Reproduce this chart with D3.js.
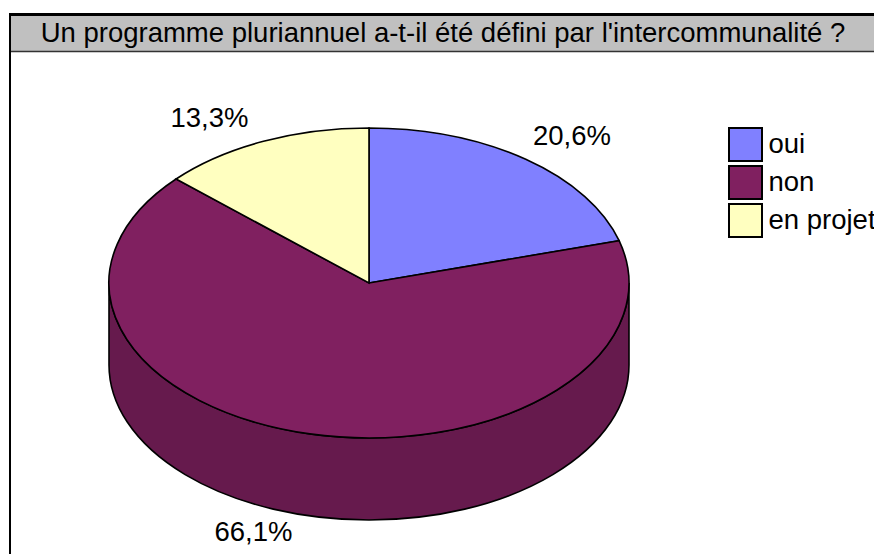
<!DOCTYPE html>
<html><head><meta charset="utf-8">
<script src="https://cdn.jsdelivr.net/npm/d3@7"></script>
<style>html,body{margin:0;padding:0;background:#fff}svg{display:block}text{font-family:"Liberation Sans",Arial,sans-serif;fill:#000;font-size:27.5px}</style>
</head><body><div id="c"></div>
<script>
const titleText = "Un programme pluriannuel a-t-il été défini par l'intercommunalité ?";
const categories = ["oui","non","en projet"];
const values = [20.6,66.1,13.3];
const valueLabels = ["20,6%","66,1%","13,3%"];
const colors = ["#8080FF","#802060","#FFFFC0"];
const sideColors = ["#6060C0","#661A4D","#C0C090"];

const W=874,H=554,cx=369,cy=283,rx=260,ry=155,depth=82;
const labelAnchor = [[572,145],[253.5,541],[209.5,127]];
const svg=d3.select("#c").append("svg").attr("width",W).attr("height",H);
svg.append("rect").attr("width",W).attr("height",H).attr("fill","#fff");

// frame and title band
svg.append("rect").attr("x",10).attr("y",15).attr("width",W).attr("height",36.5).attr("fill","#C0C0C0");
svg.append("line").attr("x1",10).attr("x2",W).attr("y1",51.5).attr("y2",51.5).attr("stroke","#333").attr("stroke-width",1.3);
svg.append("line").attr("x1",9).attr("x2",W).attr("y1",14.5).attr("y2",14.5).attr("stroke","#000").attr("stroke-width",3);
svg.append("line").attr("x1",10).attr("x2",10).attr("y1",14).attr("y2",H).attr("stroke","#000").attr("stroke-width",2);
svg.append("text").attr("x",443).attr("y",42).attr("text-anchor","middle").text(titleText);

// pie
const arcs=d3.pie().sort(null)(values);
const px=a=>cx+rx*Math.sin(a), py=a=>cy-ry*Math.cos(a);
// extruded wall: visible front half only (angles between PI/2 and 3PI/2)
arcs.forEach((d,i)=>{
  const a0=Math.max(d.startAngle,Math.PI/2), a1=Math.min(d.endAngle,3*Math.PI/2);
  if(a1<=a0) return;
  const big=(a1-a0)>Math.PI?1:0;
  const dp=`M${px(a0)},${py(a0)}A${rx},${ry} 0 ${big} 1 ${px(a1)},${py(a1)}L${px(a1)},${py(a1)+depth}A${rx},${ry} 0 ${big} 0 ${px(a0)},${py(a0)+depth}Z`;
  svg.append("path").attr("d",dp).attr("fill",sideColors[i]).attr("stroke","#000").attr("stroke-width",1.6);
});
// top faces: unit arcs scaled into the ellipse
const arc=d3.arc().innerRadius(0).outerRadius(1);
svg.append("g").attr("transform",`translate(${cx},${cy}) scale(${rx},${ry})`)
  .selectAll("path").data(arcs).join("path")
  .attr("d",arc).attr("fill",(d,i)=>colors[i])
  .attr("stroke","#000").attr("stroke-width",1.6).attr("vector-effect","non-scaling-stroke");

// value labels
svg.selectAll("text.v").data(valueLabels).join("text").attr("class","v")
  .attr("x",(d,i)=>labelAnchor[i][0]).attr("y",(d,i)=>labelAnchor[i][1]).attr("text-anchor","middle").text(d=>d);

// legend
const ly=d3.scalePoint().domain(categories).range([128,204]);
const lg=svg.selectAll("g.l").data(categories).join("g").attr("class","l").attr("transform",d=>`translate(729,${ly(d)})`);
lg.append("rect").attr("width",33).attr("height",33).attr("fill",(d,i)=>colors[i]).attr("stroke","#000").attr("stroke-width",2);
lg.append("text").attr("x",39.5).attr("y",25).text(d=>d);
</script></body></html>
